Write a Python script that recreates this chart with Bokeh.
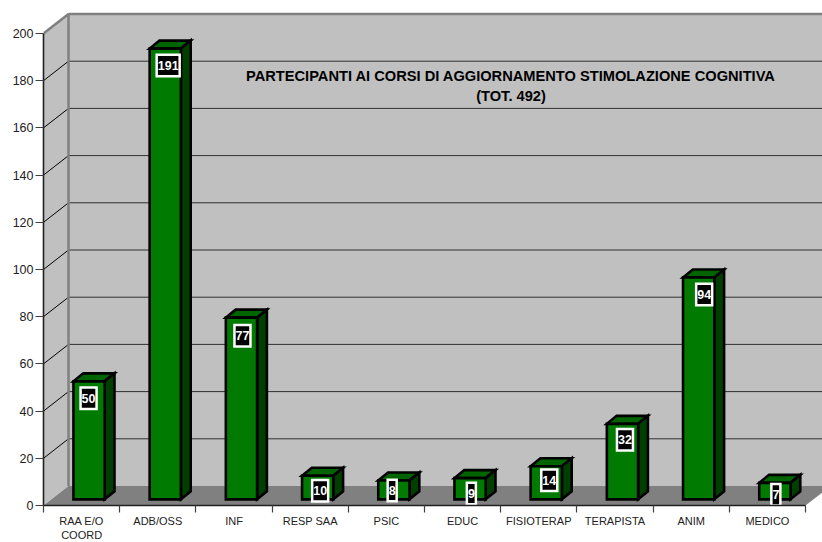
from bokeh.plotting import figure
from bokeh.models import Range1d, FixedTicker
from bokeh.core.properties import value
from bokeh.embed import file_html
from bokeh.resources import INLINE

# data
categories = ["RAA E/O\nCOORD", "ADB/OSS", "INF", "RESP SAA", "PSIC", "EDUC", "FISIOTERAP", "TERAPISTA", "ANIM", "MEDICO"]
values = [50, 191, 77, 10, 8, 9, 14, 32, 94, 7]
y_ticks = list(range(0, 201, 20))
title_lines = ["PARTECIPANTI AI CORSI DI AGGIORNAMENTO STIMOLAZIONE COGNITIVA", "(TOT. 492)"]

# layout (pixels)
PX_X, PX_Y = 76.2, 2.36
FRAME_W, FRAME_H = 779, 505
label_drop = [17, 17, 18, 15, 10, 15.5, 14, 16, 17, 12]
label_shift = [-0.5, 2.9, 1, 2.5, -1.7, 1.3, 3, 2.5, 5.5, 1]

X_MAX = FRAME_W / PX_X
Y_MAX = FRAME_H / PX_Y
DX, DY = 25 / PX_X, 19.5 / PX_Y          # wall depth
BX, BY = 9.8 / PX_X, 8 / PX_Y            # bar depth
BAR_L, BAR_W = 0.393, 0.41
BASE = 2.6
n = len(values)

p = figure(width=822, height=542, frame_width=FRAME_W, frame_height=FRAME_H,
           x_range=Range1d(0, X_MAX), y_range=Range1d(0, Y_MAX),
           output_backend="svg", toolbar_location=None,
           min_border_left=43, min_border_right=0, min_border_top=0, min_border_bottom=37,
           outline_line_color=None, background_fill_color="white")
p.grid.visible = False

ax = p.xaxis[0]
ax.ticker = FixedTicker(ticks=[i + 0.5 for i in range(n)], minor_ticks=list(range(n + 1)))
ax.major_label_overrides = {i + 0.5: c for i, c in enumerate(categories)}
ax.major_tick_line_color = None
ax.major_tick_in = 0
ax.major_tick_out = 7
ax.minor_tick_in = 0
ax.minor_tick_out = 7
ax.minor_tick_line_color = "#404040"
ax.minor_tick_line_width = 1.2
ax.axis_line_color = "#202020"
ax.axis_line_width = 1.6
ax.bounds = (0, n)
ax.major_label_standoff = 2
ax.major_label_text_font = "Liberation Sans"
ax.major_label_text_font_size = "11px"
ax.major_label_text_color = "#222222"

ay = p.yaxis[0]
ay.ticker = FixedTicker(ticks=y_ticks)
ay.bounds = (0, 200)
ay.minor_tick_line_color = None
ay.major_tick_in = 0
ay.major_tick_out = 8
ay.major_tick_line_color = "#404040"
ay.major_tick_line_width = 1.2
ay.axis_line_color = "#202020"
ay.axis_line_width = 1.6
ay.major_label_standoff = 2
ay.major_label_text_font = "Liberation Sans"
ay.major_label_text_font_size = "12.5px"
ay.major_label_text_color = "#222222"

GREY = "#c0c0c0"
# back wall, side wall, floor
p.patch([DX, X_MAX + 1, X_MAX + 1, DX], [DY, DY, 200 + DY, 200 + DY], fill_color=GREY, line_color=None)
p.patch([0, DX, DX, 0], [0, DY, 200 + DY, 200], fill_color=GREY, line_color=None)
p.patch([0, n, n + DX, DX], [0, 0, DY, DY], fill_color="#808080", line_color=None)

# gridlines
gt = [t for t in y_ticks if 0 < t < 200]
p.multi_line([[0, DX] for _ in gt], [[t, t + DY] for t in gt], line_color="black", line_width=1)
p.multi_line([[DX, X_MAX + 1] for _ in gt], [[t + DY, t + DY] for t in gt], line_color="#303030", line_width=1)

# wall edges
p.line([0, DX, DX], [200, 200 + DY, DY], line_color="#808080", line_width=2.5)
p.line([DX, X_MAX + 1], [200 + DY, 200 + DY], line_color="#808080", line_width=2.5)

# bars
left = [i + BAR_L for i in range(n)]
right = [l + BAR_W for l in left]
tops = [BASE + v for v in values]
LW = 2.6
p.patches([[l, r, r + BX, l + BX] for l, r in zip(left, right)],
          [[t, t, t + BY, t + BY] for t in tops],
          fill_color="#006400", line_color="black", line_width=LW, line_join="miter")
p.patches([[r, r + BX, r + BX, r] for r in right],
          [[BASE, BASE + BY, t + BY, t] for t in tops],
          fill_color="#003f00", line_color="black", line_width=LW, line_join="miter")
p.quad(left=left, right=right, bottom=[BASE] * n, top=tops,
       fill_color="#007a00", line_color="black", line_width=LW, line_join="miter")

# value labels
lx = [(l + r) / 2 + s / PX_X for l, r, s in zip(left, right, label_shift)]
ly = [t - d / PX_Y for t, d in zip(tops, label_drop)]
texts = [str(v) for v in values]
p.rect(lx, ly, width=[7 * len(s) + 2 for s in texts], height=21.5,
       width_units="screen", height_units="screen",
       fill_color="black", line_color="white", line_width=2.5, line_join="miter")
p.text(lx, ly, text=texts, text_color="white", text_font=value("Liberation Sans"), text_font_style="bold",
       text_font_size="12.5px", text_align="center", text_baseline="middle")

# title
title_x = (510.5 - 43) / PX_X
p.text([title_x] * 2, [(504.5 - 75) / PX_Y, (504.5 - 95) / PX_Y], text=title_lines,
       text_color="black", text_font=value("Liberation Sans"), text_font_style="bold",
       text_font_size="14.65px", text_align="center", text_baseline="middle")

open("out.html", "w").write(file_html(p, INLINE))
